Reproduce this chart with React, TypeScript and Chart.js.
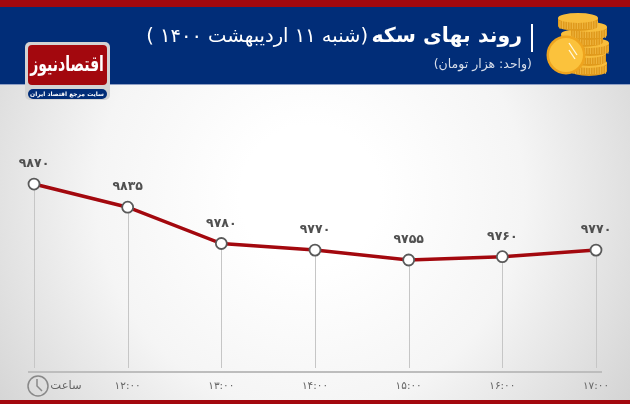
import React, { useEffect, useRef } from 'react';
import { Chart, registerables } from 'chart.js';

Chart.register(...registerables);

const hours = ['۱۱:۰۰', '۱۲:۰۰', '۱۳:۰۰', '۱۴:۰۰', '۱۵:۰۰', '۱۶:۰۰', '۱۷:۰۰'];
const prices = [9870, 9835, 9780, 9770, 9755, 9760, 9770];
const titleBold = 'روند بهای سکه';
const titleDate = '(شنبه ۱۱ اردیبهشت ۱۴۰۰ )';
const unitText = '(واحد: هزار تومان)';
const timeText = 'ساعت';
const logoText = 'اقتصادنیوز';
const logoSubText = 'سایت مرجع اقتصاد ایران';

const FONT = '"DejaVu Sans"';
const NAVY = '#012d78';
const RED = '#a3080e';
const GOLD = '#f7bd3c';
const GOLD_DARK = '#e09a1c';

const toFa = (n: number) =>
  String(n).replace(/\d/g, (d) => '۰۱۲۳۴۵۶۷۸۹'[Number(d)]);

function roundRect(ctx: CanvasRenderingContext2D, x: number, y: number, w: number, h: number, r: number, fill: string) {
  ctx.beginPath();
  ctx.roundRect(x, y, w, h, r);
  ctx.fillStyle = fill;
  ctx.fill();
}

function drawCoinLayer(ctx: CanvasRenderingContext2D, cx: number, y: number, rx: number) {
  ctx.fillStyle = GOLD_DARK;
  ctx.beginPath();
  ctx.ellipse(cx, y + 8, rx, 5, 0, 0, Math.PI * 2);
  ctx.fill();
  ctx.fillRect(cx - rx, y, rx * 2, 8);
  ctx.strokeStyle = '#f4c04e';
  ctx.lineWidth = 0.7;
  for (let x = cx - rx + 2; x < cx + rx; x += 2.5) {
    ctx.beginPath();
    ctx.moveTo(x, y + 3);
    ctx.lineTo(x, y + 11);
    ctx.stroke();
  }
  ctx.fillStyle = GOLD;
  ctx.beginPath();
  ctx.ellipse(cx, y, rx, 5, 0, 0, Math.PI * 2);
  ctx.fill();
}

function drawCoins(ctx: CanvasRenderingContext2D) {
  drawCoinLayer(ctx, 589, 63, 18);
  drawCoinLayer(ctx, 589, 53, 17);
  drawCoinLayer(ctx, 590, 43, 19);
  drawCoinLayer(ctx, 582, 34, 21);
  drawCoinLayer(ctx, 589, 27, 18);
  drawCoinLayer(ctx, 578, 18, 20);
  ctx.beginPath();
  ctx.arc(566, 55, 19.5, 0, Math.PI * 2);
  ctx.fillStyle = '#eea41e';
  ctx.fill();
  ctx.beginPath();
  ctx.arc(566, 55, 17, 0, Math.PI * 2);
  ctx.fillStyle = '#fbc23c';
  ctx.fill();
  ctx.strokeStyle = '#fff8e0';
  ctx.lineWidth = 1.3;
  ctx.beginPath();
  ctx.moveTo(569, 43);
  ctx.lineTo(577, 55);
  ctx.stroke();
  ctx.beginPath();
  ctx.moveTo(569, 50);
  ctx.lineTo(575, 59);
  ctx.stroke();
}

const backdrop = {
  id: 'backdrop',
  beforeDraw(chart: Chart) {
    const { ctx, width, height } = chart;
    ctx.save();
    const bg = ctx.createRadialGradient(310, 195, 70, 310, 195, 390);
    bg.addColorStop(0, '#ffffff');
    bg.addColorStop(0.45, '#f5f5f5');
    bg.addColorStop(1, '#d2d2d2');
    ctx.fillStyle = bg;
    ctx.fillRect(0, 0, width, height);
    ctx.fillStyle = NAVY;
    ctx.fillRect(0, 6, width, 78);
    ctx.fillStyle = '#8f9fc4';
    ctx.fillRect(0, 84, width, 1);
    ctx.fillStyle = RED;
    ctx.fillRect(0, 0, width, 7);
    ctx.fillRect(0, 400, width, 4);
    ctx.restore();
  },
  beforeDatasetsDraw(chart: Chart) {
    const { ctx, scales } = chart;
    ctx.save();
    ctx.strokeStyle = '#c6c6c6';
    ctx.lineWidth = 1;
    prices.forEach((v, i) => {
      const x = Math.round(scales.x.getPixelForValue(i)) + 0.5;
      ctx.beginPath();
      ctx.moveTo(x, scales.y.getPixelForValue(v));
      ctx.lineTo(x, 368);
      ctx.stroke();
    });
    ctx.fillStyle = '#bdbdbd';
    ctx.fillRect(28, 371, 574, 2);
    ctx.restore();
  },
  afterDraw(chart: Chart) {
    const { ctx } = chart;
    ctx.save();
    ctx.direction = 'rtl';
    ctx.textBaseline = 'middle';
    ctx.textAlign = 'right';

    // header
    ctx.fillStyle = '#ffffff';
    ctx.font = `bold 20.5px ${FONT}`;
    ctx.fillText(titleBold, 522, 37);
    ctx.font = `19.5px ${FONT}`;
    ctx.fillText(titleDate, 368, 37);
    ctx.fillRect(531, 24, 2, 28);
    ctx.fillStyle = '#d8deea';
    ctx.font = `12.5px ${FONT}`;
    ctx.fillText(unitText, 532, 65);

    // logo
    roundRect(ctx, 25, 42, 85, 58, 5, '#d3d3d3');
    roundRect(ctx, 28, 45, 79, 40, 4, RED);
    roundRect(ctx, 28, 89, 79, 10, 5, NAVY);
    ctx.textAlign = 'center';
    ctx.fillStyle = '#ffffff';
    ctx.save();
    ctx.translate(67, 66);
    ctx.scale(1, 1.5);
    ctx.font = `bold 14px ${FONT}`;
    ctx.fillText(logoText, 0, 0);
    ctx.restore();
    ctx.font = `bold 6px ${FONT}`;
    ctx.fillText(logoSubText, 67, 94);
    drawCoins(ctx);

    // axis caption and clock
    ctx.textAlign = 'center';
    ctx.fillStyle = '#666666';
    ctx.font = `11.5px ${FONT}`;
    ctx.fillText(timeText, 66, 386);
    ctx.strokeStyle = '#888888';
    ctx.lineWidth = 1.5;
    ctx.beginPath();
    ctx.arc(38, 386, 10, 0, Math.PI * 2);
    ctx.moveTo(37, 379);
    ctx.lineTo(37, 386);
    ctx.lineTo(42, 391);
    ctx.stroke();

    // value labels above the points
    const meta = chart.getDatasetMeta(0);
    ctx.fillStyle = '#505050';
    ctx.font = `bold 12.5px ${FONT}`;
    ctx.direction = 'ltr';
    meta.data.forEach((pt, i) => {
      ctx.fillText(toFa(prices[i]), pt.x, pt.y - 20);
    });
    ctx.restore();
  },
};

const App: React.FC = () => {
  const canvasRef = useRef<HTMLCanvasElement | null>(null);

  useEffect(() => {
    const ctx = canvasRef.current?.getContext('2d');
    if (!ctx) return;

    const chart = new Chart(ctx, {
      type: 'line',
      data: {
        labels: hours,
        datasets: [
          {
            data: prices,
            borderColor: RED,
            borderWidth: 3.5,
            tension: 0,
            pointRadius: 5.5,
            pointBackgroundColor: '#ffffff',
            pointBorderColor: '#5a5a5a',
            pointBorderWidth: 1.8,
          },
        ],
      },
      options: {
        responsive: false,
        animation: false,
        layout: { padding: { left: 34, right: 34, top: 85, bottom: 0 } },
        plugins: {
          legend: { display: false },
          tooltip: { enabled: false },
        },
        scales: {
          x: {
            offset: false,
            grid: { display: false },
            border: { display: false },
            afterFit: (axis) => {
              axis.height = 35;
            },
            ticks: {
              color: '#666666',
              padding: 3,
              maxRotation: 0,
              autoSkip: false,
              font: { family: FONT, size: 10.5 },
              // the first slot holds the clock and the word for time instead of a label
              callback: (_v, i) => (i === 0 ? '' : hours[i]),
            },
          },
          y: { display: false, min: 9590, max: 10020 },
        },
      },
      plugins: [backdrop],
    });

    return () => {
      chart.destroy();
    };
  }, []);

  return (
    <canvas
      ref={canvasRef}
      width={630}
      height={404}
      style={{ position: 'absolute', left: 0, top: 0 }}
    ></canvas>
  );
};

export default App;
